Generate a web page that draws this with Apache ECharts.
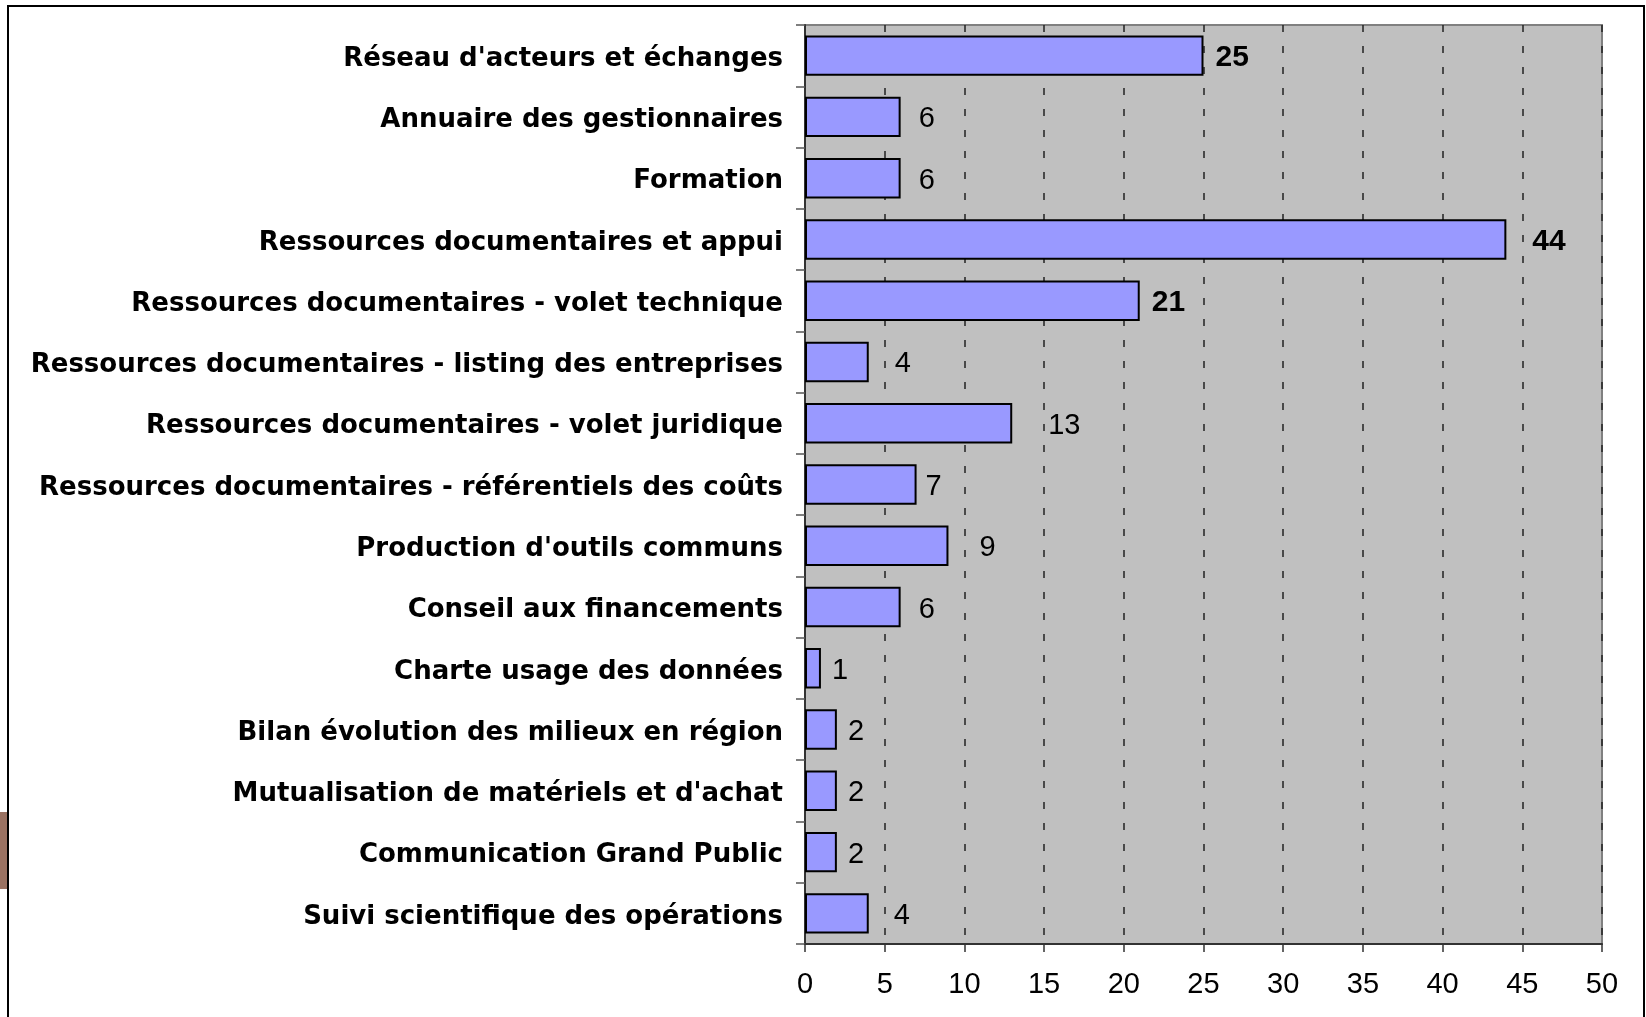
<!DOCTYPE html>
<html>
<head>
<meta charset="utf-8">
<script src="https://cdn.jsdelivr.net/npm/echarts@6/dist/echarts.min.js"></script>
<style>
html, body { margin: 0; padding: 0; background: #fff; }
#barChart { width: 1646px; height: 1017px; }
</style>
</head>
<body>
<div id="barChart"></div>
<script>
// catégories (du haut vers le bas)
const categories = [
    "Réseau d'acteurs et échanges",
    "Annuaire des gestionnaires",
    "Formation",
    "Ressources documentaires et appui",
    "Ressources documentaires - volet technique",
    "Ressources documentaires - listing des entreprises",
    "Ressources documentaires - volet juridique",
    "Ressources documentaires - référentiels des coûts",
    "Production d'outils communs",
    "Conseil aux financements",
    "Charte usage des données",
    "Bilan évolution des milieux en région",
    "Mutualisation de matériels et d'achat",
    "Communication Grand Public",
    "Suivi scientifique des opérations"
];
const values = [25, 6, 6, 44, 21, 4, 13, 7, 9, 6, 1, 2, 2, 2, 4];
const xTicks = [0, 5, 10, 15, 20, 25, 30, 35, 40, 45, 50];
// écart des étiquettes de valeur (comme dans l'original Excel)
const labelGaps = [12, 18, 18, 26, 12, 26, 36, 9, 31, 18, 11, 11, 11, 11, 25];

const narrow = "'Liberation Sans Narrow', 'Liberation Sans', Arial, sans-serif";
const sans = "'Liberation Sans', Arial, sans-serif";

let myChart = echarts.init(document.getElementById('barChart'));
myChart.setOption({
    backgroundColor: '#ffffff',
    animation: false,
    grid: {
        left: 805,
        top: 25,
        right: 44,
        bottom: 73,
        show: true,
        backgroundColor: '#c0c0c0',
        borderColor: '#808080',
        borderWidth: 2
    },
    xAxis: {
        type: 'value',
        min: xTicks[0],
        max: xTicks[xTicks.length - 1],
        interval: 5,
        axisLine: { show: true, lineStyle: { color: '#333', width: 2 } },
        axisTick: { show: true, length: 8, lineStyle: { color: '#333', width: 1.5 } },
        axisLabel: {
            margin: 26,
            color: '#000',
            fontSize: 29,
            fontFamily: narrow
        },
        splitLine: {
            show: true,
            lineStyle: { color: '#222', width: 1.5, type: [7, 14] }
        }
    },
    yAxis: {
        type: 'category',
        inverse: true,
        data: categories,
        axisLine: { show: true, lineStyle: { color: '#333', width: 2 } },
        axisTick: { show: true, length: 9, lineStyle: { color: '#555', width: 1.5 } },
        axisLabel: {
            margin: 22,
            formatter: function (v) {
                return '{c|' + v + '}';
            },
            rich: {
                c: {
                    color: '#000',
                    fontSize: 26,
                    fontWeight: 'bold',
                    fontFamily: "'DejaVu Sans', sans-serif",
                    padding: [7, 0, 0, 0]
                }
            }
        }
    },
    series: [
        {
            type: 'bar',
            data: values.map(function (v, i) {
                return { value: v, label: { distance: labelGaps[i] } };
            }),
            barCategoryGap: '34%',
            itemStyle: {
                color: '#9999ff',
                borderColor: '#000',
                borderWidth: 2
            },
            label: {
                show: true,
                position: 'right',
                formatter: function (p) {
                    return p.value > 20 ? '{b|' + p.value + '}' : '{n|' + p.value + '}';
                },
                rich: {
                    b: { fontSize: 30, fontWeight: 'bold', color: '#000', fontFamily: sans, padding: [5, 0, 0, 0] },
                    n: { fontSize: 29, color: '#000', fontFamily: narrow, padding: [5, 0, 0, 0] }
                }
            }
        }
    ],
    graphic: [
        // cadre extérieur
        {
            type: 'rect',
            shape: { x: 8, y: 6, width: 1636, height: 1030 },
            style: { fill: null, stroke: '#000', lineWidth: 2 },
            z: 10
        },
        // bandeau brun à gauche
        {
            type: 'rect',
            shape: { x: 0, y: 812, width: 7, height: 77 },
            style: { fill: '#9a7262' },
            z: 11
        }
    ]
});
window.addEventListener("resize", function () {
    myChart.resize();
});
</script>
</body>
</html>
